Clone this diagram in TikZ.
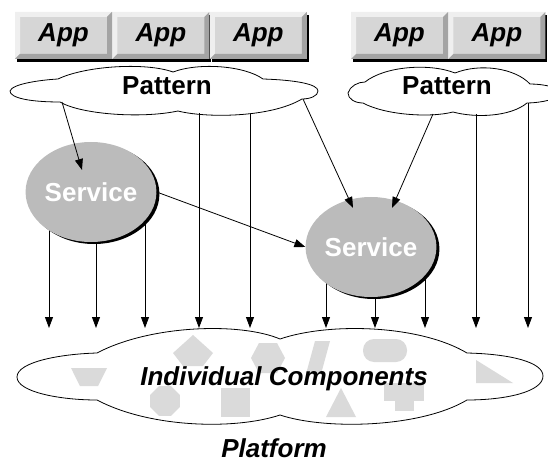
\documentclass[tikz,border=0pt]{standalone}
\usepackage{fontspec}
\setmainfont{Liberation Sans}
\usepackage{xcolor}
\usetikzlibrary{arrows.meta,positioning,shapes.geometric,shadows,backgrounds}

\definecolor{btngray}{HTML}{D6D6D6}
\definecolor{btnlight}{HTML}{EFEFEF}
\definecolor{btndark}{HTML}{A4A4A4}
\definecolor{svcgray}{HTML}{BBBBBB}
\definecolor{partgray}{HTML}{DADADA}

\begin{document}
\begin{tikzpicture}[
  x=1pt, y=1pt,
  app/.style={minimum width=97pt, minimum height=47pt, inner sep=0pt, fill=btngray,
              font=\fontsize{26}{30}\selectfont\bfseries\itshape,
              drop shadow={shadow xshift=2pt, shadow yshift=-3pt, fill=black, opacity=1},
              path picture={
                \fill[btnlight] (path picture bounding box.north west)
                  -- (path picture bounding box.north east) -- ++(-5pt,-5pt)
                  -- ([shift={(5pt,-5pt)}]path picture bounding box.north west)
                  -- ([shift={(5pt,5pt)}]path picture bounding box.south west)
                  -- (path picture bounding box.south west) -- cycle;
                \fill[btndark] (path picture bounding box.south east)
                  -- (path picture bounding box.south west) -- ++(5pt,5pt)
                  -- ([shift={(-5pt,5pt)}]path picture bounding box.south east)
                  -- ([shift={(-5pt,-5pt)}]path picture bounding box.north east)
                  -- (path picture bounding box.north east) -- cycle;}},
  service/.style={ellipse, minimum width=130pt, minimum height=100pt, inner sep=0pt,
                  fill=svcgray, text=white, font=\fontsize{26}{30}\selectfont\bfseries,
                  drop shadow={shadow xshift=3pt, shadow yshift=-2pt, fill=black, opacity=1}},
  bigtext/.style={font=\fontsize{26}{30}\selectfont\bfseries, inner sep=0pt},
  slanted/.style={font=\fontsize{26}{30}\selectfont\bfseries\itshape, inner sep=0pt},
  blob/.style={draw=black, line width=0.8pt, fill=white},
  piece/.style={fill=partgray},
  arrow/.style={-{Triangle[length=11pt,width=8pt]}, line width=0.8pt}
]
  \clip (0,0) rectangle (548,-462);

  % applications
  \node[app] (app1) at (63.5,-35.5) {App};
  \node[app, right=0pt of app1] (app2) {App};
  \node[app, right=0pt of app2] (app3) {App};
  \node[app] (app4) at (399.5,-35.5) {App};
  \node[app, right=0pt of app4] (app5) {App};

  % pattern clouds
  \path[blob] (10,-91) .. controls (12,-84) and (40,-80) .. (58,-79)
    .. controls (85,-66) and (145,-62) .. (173,-72)
    .. controls (200,-62) and (245,-66) .. (263,-79)
    .. controls (295,-80) and (318,-84) .. (318,-91)
    .. controls (318,-96) and (310,-99) .. (302,-99)
    .. controls (270,-118) and (205,-118) .. (178,-111)
    .. controls (140,-119) and (80,-114) .. (60,-102)
    .. controls (30,-102) and (10,-98) .. (10,-91) -- cycle;
  \node[bigtext, anchor=base] (patL) at (167,-95) {Pattern};

  \path[blob] (348,-93) .. controls (350,-86) and (358,-82) .. (365,-82)
    .. controls (385,-66) and (430,-63) .. (455,-73)
    .. controls (480,-63) and (515,-68) .. (530,-84)
    .. controls (545,-84) and (560,-88) .. (562,-93)
    .. controls (560,-99) and (540,-103) .. (527,-103)
    .. controls (510,-117) and (475,-118) .. (453,-112)
    .. controls (430,-118) and (385,-115) .. (363,-103)
    .. controls (355,-103) and (348,-99) .. (348,-93) -- cycle;
  \node[bigtext, anchor=base] (patR) at (447,-95) {Pattern};

  % services
  \node[service] (svcL) at (91,-192) {Service};
  \node[service] (svcR) at (371,-247) {Service};

  % connector ends
  \coordinate (patL-a) at (62,-102);
  \coordinate (patL-b1) at (199,-113);
  \coordinate (patL-b2) at (250,-114);
  \coordinate (patL-c) at (303,-99);
  \coordinate (patR-a) at (433,-114);
  \coordinate (patR-b1) at (476,-114);
  \coordinate (patR-b2) at (528,-103);
  \coordinate (slot1) at (49,-328);
  \coordinate (slot2) at (96,-328);
  \coordinate (slot3) at (145,-328);
  \coordinate (slot4) at (199,-328);
  \coordinate (slot5) at (250,-328);
  \coordinate (slot6) at (326,-328);
  \coordinate (slot7) at (375,-328);
  \coordinate (slot8) at (425,-328);
  \coordinate (slot9) at (476,-328);
  \coordinate (slot10) at (528,-328);

  \begin{scope}[on background layer]
    \draw[arrow] (slot1 |- svcL.center) -- (slot1);
    \draw[arrow] (slot2 |- svcL.center) -- (slot2);
    \draw[arrow] (slot3 |- svcL.center) -- (slot3);
    \draw[arrow] (slot6 |- svcR.center) -- (slot6);
    \draw[arrow] (slot7 |- svcR.center) -- (slot7);
    \draw[arrow] (slot8 |- svcR.center) -- (slot8);
  \end{scope}
  \draw[arrow] (patL-b1) -- (slot4);
  \draw[arrow] (patL-b2) -- (slot5);
  \draw[arrow] (patR-b1) -- (slot9);
  \draw[arrow] (patR-b2) -- (slot10);

  \draw[arrow] (patL-a) -- ([shift={(-9pt,22pt)}]svcL.center);
  \draw[arrow] (patL-c) -- ([shift={(-18pt,39pt)}]svcR.center);
  \draw[arrow] (patR-a) -- ([shift={(21pt,39pt)}]svcR.center);
  \draw[arrow] (svcL.east) -- (svcR.west);

  % components cloud
  \path[blob] (17,-377) .. controls (17,-362) and (60,-354) .. (97,-353)
    .. controls (150,-325) and (240,-322) .. (280,-339)
    .. controls (330,-322) and (420,-325) .. (467,-353)
    .. controls (510,-354) and (543,-362) .. (543,-376)
    .. controls (543,-392) and (505,-400) .. (467,-400)
    .. controls (420,-428) and (325,-430) .. (280,-415)
    .. controls (235,-430) and (150,-428) .. (97,-400)
    .. controls (60,-400) and (17,-392) .. (17,-377) -- cycle;

  \fill[piece] (71,-368) -- (107,-368) -- (98,-386) -- (80,-386) -- cycle;
  \fill[piece] (193,-335) -- (213,-353) -- (203,-366) -- (183,-366) -- (173,-353) -- cycle;
  \fill[piece] (259,-343) -- (277,-343) -- (285,-358) -- (277,-373) -- (259,-373) -- (251,-358) -- cycle;
  \fill[piece] (315,-341) -- (330,-341) -- (321,-374) -- (306,-374) -- cycle;
  \fill[piece, rounded corners=11pt] (363,-339) rectangle (407,-362);
  \fill[piece] (476,-360) -- (513,-383) -- (476,-383) -- cycle;
  \fill[piece] (165,-401) +(22.5:16) -- +(67.5:16) -- +(112.5:16) -- +(157.5:16)
    -- +(202.5:16) -- +(247.5:16) -- +(292.5:16) -- +(337.5:16) -- cycle;
  \fill[piece] (221,-388) rectangle (250,-417);
  \fill[piece] (341,-388) -- (356,-417) -- (326,-417) -- cycle;
  \fill[piece] (384,-383) rectangle (424,-401);
  \fill[piece] (395,-401) rectangle (414,-411);

  \node[slanted, anchor=base] (comps) at (284,-385) {Individual Components};
  \node[slanted, anchor=base] (platform) at (274,-457) {Platform};
\end{tikzpicture}
\end{document}
